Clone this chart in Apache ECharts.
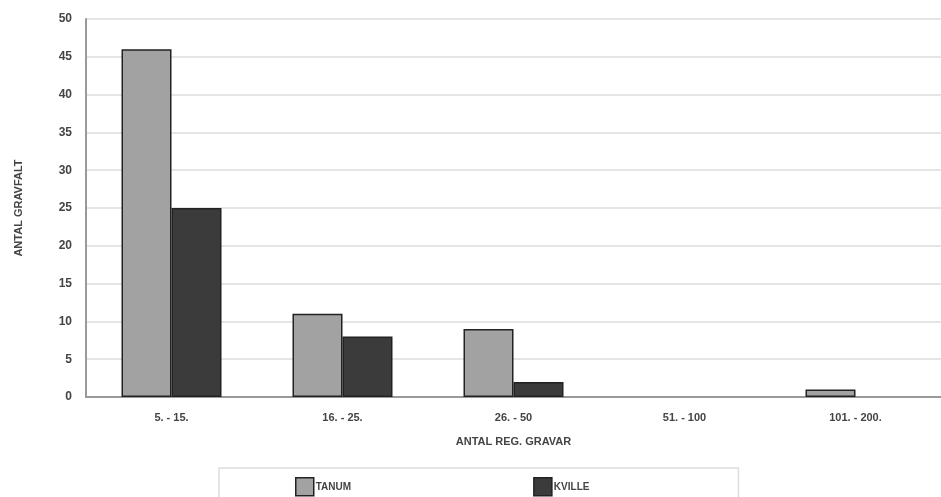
<!DOCTYPE html>
<html>
<head>
<meta charset="utf-8">
<script src="https://cdn.jsdelivr.net/npm/echarts@6/dist/echarts.min.js"></script>
<style>
  html, body { margin: 0; padding: 0; background: #fff; }
  #chart { width: 941px; height: 497px; }
</style>
</head>
<body>
<div id="chart"></div>
<script>
var categories = ['5. - 15.', '16. - 25.', '26. - 50', '51. - 100', '101. - 200.'];
var tanum = [46, 11, 9, 0, 1];
var kville = [25, 8, 2, 0, 0];
var yTicks = { min: 0, max: 50, interval: 5 };

// zero counts draw no bar in the original (no flat outline either)
function noZero(arr) {
    return arr.map(function (v) { return v === 0 ? '-' : v; });
}

var chart = echarts.init(document.getElementById('chart'));
var textFont = 'Liberation Sans, Arial, sans-serif';

var option = {
    animation: false,
    textStyle: { fontFamily: textFont },
    grid: {
        left: 86,
        top: 19,
        width: 858,
        height: 378
    },
    legend: {
        left: 219,
        top: 468,
        padding: [9, 149, 12, 76],
        itemGap: 182,
        itemWidth: 18,
        itemHeight: 18,
        icon: 'rect',
        itemStyle: { borderColor: '#222', borderWidth: 1.5 },
        borderColor: '#ddd',
        borderWidth: 1.5,
        textStyle: { fontSize: 10, color: '#444', fontWeight: 'bold', padding: [0, 0, 0, -3] },
        data: ['TANUM', 'KVILLE']
    },
    xAxis: {
        type: 'category',
        data: categories,
        name: 'ANTAL REG. GRAVAR',
        nameLocation: 'middle',
        nameGap: 39,
        nameTextStyle: { fontSize: 11, color: '#444', fontWeight: 'bold' },
        axisLine: { lineStyle: { color: '#999', width: 2 } },
        axisTick: { show: false },
        axisLabel: { fontSize: 11, color: '#444', fontWeight: 'bold', margin: 15 }
    },
    yAxis: {
        type: 'value',
        min: yTicks.min,
        max: yTicks.max,
        interval: yTicks.interval,
        name: 'ANTAL GRAVFALT',
        nameLocation: 'middle',
        nameRotate: 90,
        nameGap: 62,
        nameTextStyle: { fontSize: 11, color: '#444', fontWeight: 'bold' },
        axisLine: { show: true, lineStyle: { color: '#999', width: 2 } },
        axisTick: { show: false },
        axisLabel: { fontSize: 12, color: '#444', fontWeight: 'bold', margin: 14 },
        splitLine: { lineStyle: { color: '#ddd', width: 1.5 } }
    },
    series: [{
        name: 'TANUM',
        type: 'bar',
        data: noZero(tanum),
        barWidth: 50,
        barGap: '0%',
        itemStyle: { color: '#a2a2a2', borderColor: '#222', borderWidth: 1.5 }
    },
    {
        name: 'KVILLE',
        type: 'bar',
        data: noZero(kville),
        barWidth: 50,
        itemStyle: { color: '#3b3b3b', borderColor: '#222', borderWidth: 1.5 }
    }]
};
chart.setOption(option);
</script>
</body>
</html>
